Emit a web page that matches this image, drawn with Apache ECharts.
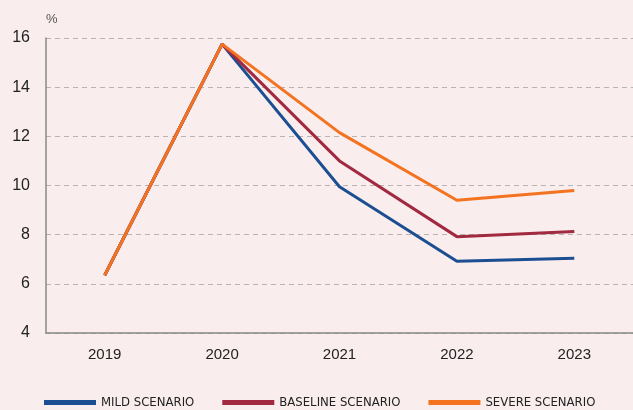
<!DOCTYPE html>
<html>
<head>
<meta charset="utf-8">
<script src="https://cdn.jsdelivr.net/npm/echarts@6/dist/echarts.min.js"></script>
<style>
  html, body { margin: 0; padding: 0; background: #f9eded; }
  #main { width: 633px; height: 410px; }
</style>
</head>
<body>
<div id="main"></div>
<script>
window.addEventListener('load', function () {
  let years = ['2019', '2020', '2021', '2022', '2023'];
  let mild = [6.35, 15.75, 9.95, 6.92, 7.04];
  let baseline = [6.35, 15.75, 11.0, 7.92, 8.13];
  let severe = [6.35, 15.75, 12.15, 9.4, 9.8];

  let chart = echarts.init(document.getElementById('main'));
  let option = {
    backgroundColor: '#f9eded',
    textStyle: { fontFamily: 'Liberation Sans' },
    grid: { left: 46, right: -6, top: 38, bottom: 77 },
    legend: {
      top: 391,
      left: 39,
      icon: 'rect',
      itemWidth: 52,
      itemHeight: 5,
      itemGap: 28,
      textStyle: { fontFamily: '"Liberation Sans Narrow", "DejaVu Sans Condensed", "Liberation Sans"', fontSize: 13, color: '#222' },
      data: ['MILD SCENARIO', 'BASELINE SCENARIO', 'SEVERE SCENARIO']
    },
    xAxis: {
      type: 'category',
      data: years,
      axisLine: { lineStyle: { color: '#888', width: 1.5 } },
      axisTick: { inside: true, length: 5, lineStyle: { color: '#999' } },
      axisLabel: { fontSize: 15, color: '#222', margin: 14 }
    },
    yAxis: {
      type: 'value',
      min: 4,
      max: 16,
      interval: 2,
      name: '%',
      nameGap: 12,
      nameTextStyle: { color: '#555', fontSize: 13, align: 'left', padding: [0, 0, 0, 0] },
      axisLine: { show: true, lineStyle: { color: '#888', width: 1.5 } },
      axisTick: { show: false },
      axisLabel: { fontSize: 16, color: '#222', margin: 16 },
      splitLine: { lineStyle: { color: '#b9b4b4', type: [5, 4], width: 1 } }
    },
    series: [
      { name: 'MILD SCENARIO', type: 'line', data: mild, symbol: 'none', color: '#1c4f91', lineStyle: { width: 3 } },
      { name: 'BASELINE SCENARIO', type: 'line', data: baseline, symbol: 'none', color: '#a12a40', lineStyle: { width: 3 } },
      { name: 'SEVERE SCENARIO', type: 'line', data: severe, symbol: 'none', color: '#f47321', lineStyle: { width: 3 } }
    ]
  };
  chart.setOption(option);
});
</script>
</body>
</html>
